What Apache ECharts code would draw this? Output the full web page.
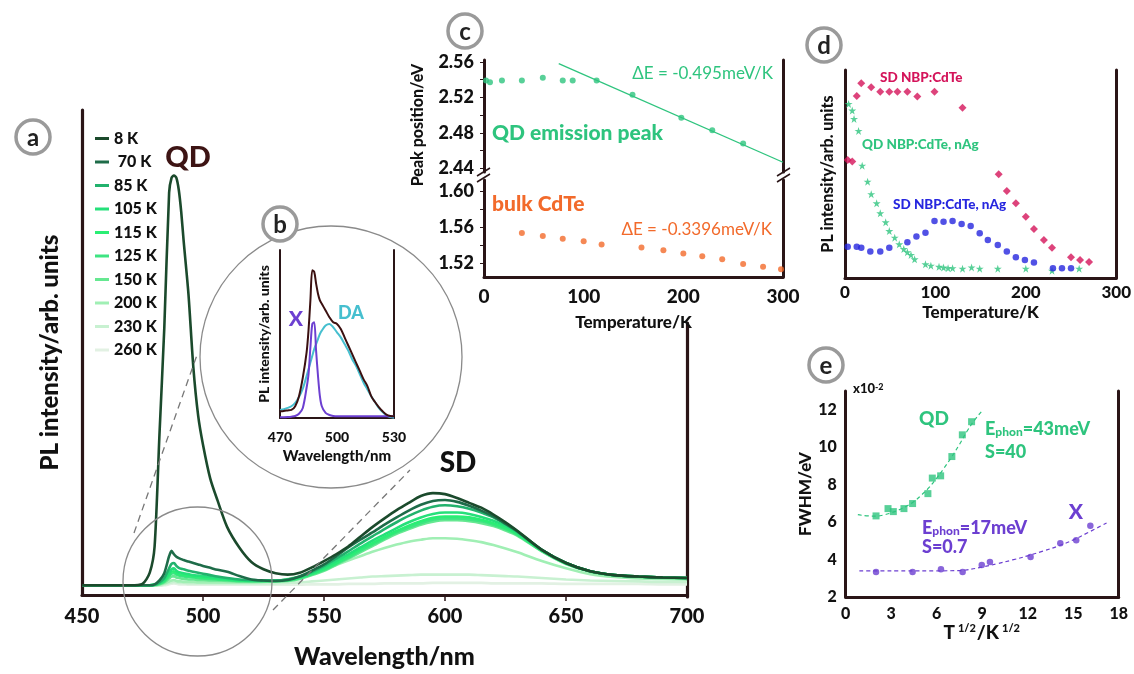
<!DOCTYPE html>
<html><head><meta charset="utf-8">
<script src="https://cdn.jsdelivr.net/npm/echarts@6/dist/echarts.min.js"></script>
<style>html,body{margin:0;padding:0;background:#fff}#c{width:1134px;height:674px}</style>
</head><body><div id="c"></div><script>
// ---------- Panel a : PL spectra ----------
const wavelengths = [450,460,470,475,478,480,482,484,486,487,488,489,490,491,492,494,496,498,500,503,506,510,515,520,525,530,535,540,545,550,555,560,565,570,575,580,585,590,595,600,605,610,615,620,625,630,640,650,660,670,680,690,700];
const tempLabels = ['8 K',' 70 K','85 K','105 K','115 K','125 K','150 K','200 K','230 K','260 K'];
const pl8K   = [2.0,2.0,2.0,2.3,4.6, 10,33,55,83,86, 86.5,86,83.5,79,73, 62,47,37,31,24, 19.5,14,9.8,6.8,5.3, 4.5,4.2,4.6,5.7,7.0, 8.4,10.0,12.0,14.0,15.8, 17.5,19.0,20.4,21.0,20.8, 20.0,19.0,18.0,16.6,15.0, 13.2,9.3,6.6,4.9,4.1, 3.8,3.6,3.5];
const pl70K  = [2.0,2.0,2.0,2.0,2.0, 2.2,3.0,4.5,8.0,9.1, 8.4,7.9,7.6,7.4,7.2, 6.9,6.6,6.3,6.0,5.6, 5.2,4.8,3.9,3.2,3.0, 2.9,3.1,3.8,5.0,6.3, 8.0,9.8,11.4,12.9,14.5, 16.0,17.4,18.6,19.4,19.6, 19.2,18.4,17.4,16.2,14.7, 13.1,9.3,6.6,4.9,4.1, 3.8,3.6,3.5];
const pl85K  = [2.0,2.0,2.0,2.0,2.0, 2.1,2.6,3.5,5.5,6.4, 6.6,6.0,5.6,5.4,5.3, 5.0,4.8,4.6,4.4,4.1, 3.8,3.5,3.2,3.1,3.0, 3.0,3.2,3.8,4.8,6.0, 7.5,9.0,10.6,12.1,13.6, 15.0,16.3,17.4,18.2,18.5, 18.3,17.8,17.0,16.0,14.6, 13.0,9.3,6.6,4.9,4.1, 3.8,3.6,3.5];
const pl105K = [2.0,2.0,2.0,2.0,2.0, 2.1,2.5,3.2,4.6,5.3, 5.5,5.0,4.7,4.6,4.5, 4.3,4.1,4.0,3.9,3.7, 3.5,3.3,3.1,3.0,3.0, 3.0,3.2,3.7,4.6,5.7, 7.0,8.4,9.8,11.2,12.5, 13.8,15.0,16.0,16.7,17.0, 17.0,16.7,16.1,15.3,14.2, 12.8,9.3,6.6,4.9,4.1, 3.8,3.6,3.5];
const pl115K = [2.0,2.0,2.0,2.0,2.0, 2.1,2.4,3.0,4.2,4.8, 4.9,4.5,4.3,4.2,4.1, 4.0,3.8,3.7,3.6,3.5, 3.3,3.2,3.0,2.9,2.9, 2.9,3.1,3.6,4.4,5.4, 6.6,8.0,9.4,10.7,12.0, 13.2,14.3,15.2,15.9,16.2, 16.2,16.0,15.5,14.8,13.8, 12.6,9.2,6.6,4.9,4.1, 3.8,3.6,3.5];
const pl125K = [2.0,2.0,2.0,2.0,2.0, 2.1,2.3,2.8,3.9,4.4, 4.5,4.2,4.0,3.9,3.8, 3.7,3.6,3.5,3.4,3.3, 3.2,3.1,2.9,2.9,2.9, 2.9,3.0,3.5,4.3,5.2, 6.4,7.7,9.1,10.4,11.7, 12.9,13.9,14.8,15.5,15.8, 15.8,15.6,15.2,14.5,13.6, 12.4,9.1,6.5,4.9,4.1, 3.8,3.6,3.5];
const pl150K = [2.0,2.0,2.0,2.0,2.0, 2.0,2.2,2.6,3.4,3.8, 3.9,3.6,3.5,3.4,3.3, 3.2,3.2,3.1,3.1,3.0, 3.0,2.9,2.8,2.8,2.8, 2.8,2.9,3.3,4.1,5.0, 6.2,7.5,8.8,10.1,11.4, 12.6,13.6,14.5,15.1,15.4, 15.4,15.2,14.8,14.2,13.3, 12.2,9.0,6.4,4.8,4.0, 3.7,3.5,3.4];
const pl200K = [2.0,2.0,2.0,2.0,2.0, 2.0,2.1,2.4,2.8,3.0, 3.1,2.9,2.8,2.8,2.7, 2.7,2.7,2.6,2.6,2.6, 2.6,2.6,2.6,2.6,2.7, 2.9,3.3,3.8,4.5,5.3, 6.2,7.1,8.0,8.9,9.7, 10.4,11.0,11.4,11.7,11.7, 11.6,11.3,10.9,10.3,9.6, 8.8,7.0,5.5,4.3,3.7, 3.4,3.3,3.2];
const pl230K = [2.0,2.0,2.0,2.0,2.0, 2.0,2.0,2.2,2.5,2.6, 2.7,2.6,2.5,2.5,2.5, 2.4,2.4,2.4,2.4,2.4, 2.4,2.4,2.4,2.4,2.4, 2.4,2.5,2.6,2.8,3.0, 3.2,3.4,3.6,3.8,3.9, 4.0,4.1,4.2,4.2,4.2, 4.2,4.2,4.1,4.0,3.9, 3.8,3.5,3.2,3.0,2.9, 2.8,2.7,2.7];
const pl260K = [1.9,1.9,1.9,1.9,1.9, 1.9,1.9,2.0,2.2,2.3, 2.4,2.3,2.2,2.2,2.2, 2.1,2.1,2.1,2.1,2.1, 2.1,2.1,2.1,2.1,2.1, 2.1,2.1,2.1,2.2,2.2, 2.2,2.3,2.3,2.3,2.4, 2.4,2.4,2.4,2.5,2.5, 2.5,2.5,2.5,2.4,2.4, 2.4,2.4,2.3,2.3,2.3, 2.3,2.2,2.2];
const plSeries = [pl8K,pl70K,pl85K,pl105K,pl115K,pl125K,pl150K,pl200K,pl230K,pl260K];
const aXTicks = [450,500,550,600,650,700];

// ---------- Panel b : decomposition ----------
const bWavelengths = [470,472,474,476,478,480,482,484,485,486,487,488,489,490,491,492,494,496,498,500,502,504,506,508,510,512,514,516,518,520,522,524,526,528,530];
const bTotal = [4.0,4.2,4.5,4.8,7.0,13,24,39, 52,70,88,87,80,74,70,68, 64,60,57,56,53,48,43,38,33,28,23,19,13,9.5,6.5,4,2,1.2,1];
const bX     = [0.5,0.5,0.6,0.8,1.2,2.5,6,18, 26,42,56,57,40,25,13,7, 3,1.8,1.2,1,1,1,1,1,1,1,1,1,1,1,1,1,1,1,1];
const bDA    = [4.8,5.2,6,7,9,12.5,17.5,25, 29,33,37,41,44,47,50,52, 55,56,54,51,48,44,40,35,31,26,21,17,13,9.5,6,3.5,1.5,0.5,0.2];
const bXTicks = [470,500,530];

// ---------- Panel c : peak position ----------
const qdTemp = [2,6,18,38,59,79,89,113,149,198,229,260];
const qdPeak = [2.539,2.537,2.539,2.539,2.542,2.539,2.539,2.539,2.523,2.497,2.483,2.468];
const qdFitTemp = [75,300];
const qdFitPeak = [2.558,2.447];
const bulkTemp = [38,59,79,100,118,158,180,200,219,239,260,280,298];
const bulkPeak = [1.5535,1.5502,1.5473,1.5444,1.5408,1.5375,1.5345,1.531,1.528,1.5247,1.5193,1.5164,1.5135];
const cUpperTicks = [2.44,2.48,2.52,2.56];
const cUpperMinor = [2.44,2.46,2.48,2.50,2.52,2.54,2.56];
const cLowerTicks = [1.52,1.56,1.60];
const cLowerMinor = [1.52,1.54,1.56,1.58,1.60];
const cXTicks = [0,100,200,300];

// ---------- Panel d : integrated intensity ----------
const sdTemp = [3,8,13,18,29,39,49,58,69,80,99,130,170,179,189,200,209,220,229,250,260,270];
const sdInt  = [56.7,56,87.5,93.6,91.7,89.6,89.6,89.6,89.6,87.2,89.6,81.9,49.9,41.8,35.9,29.5,23.6,18.3,14.6,10,8.7,7.7];
const qdAgTemp = [4,8,10,15,19,25,29,35,39,45,49,55,60,65,69,73,77,89,95,104,109,114,119,130,140,149,169,200,229,259];
const qdAgInt  = [83.7,80.5,76.5,70.7,54,46.3,40.3,35.9,31.1,26.8,22.6,19.4,16.2,13.9,12.4,11.1,9,6.6,5.9,5.4,5,4.7,4.7,4.5,5.1,4.5,4.5,4.5,3.5,4.5];
const sdAgTemp = [3,13,18,28,39,49,69,79,89,99,109,119,129,139,149,158,169,179,189,199,209,230,240,250];
const sdAgInt  = [15,15,14.6,12.7,12.7,14.6,17.2,19.9,21.8,27.4,27.1,27.4,26,25,21.5,18.3,15.9,12.7,10,8.7,7.4,4.7,4.7,4.7];
const dXTicks = [0,100,200,300];

// ---------- Panel e : FWHM ----------
const qdSqrtT = [2.0,2.79,3.14,3.84,4.41,5.42,5.71,6.26,7.0,7.69,8.30];
const qdFwhm  = [6.33,6.72,6.56,6.72,6.99,7.52,8.35,8.47,9.5,10.66,11.36];
const qdFitX  = [0.8,1.5,2.0,2.5,3,3.5,4,4.5,5,5.5,6,6.5,7,7.5,8,8.5,9.0];
const qdFitY  = [6.4,6.33,6.32,6.38,6.5,6.65,6.85,7.1,7.45,7.85,8.35,8.9,9.5,10.15,10.85,11.45,11.95];
const xSqrtT  = [2.0,4.41,6.28,7.71,8.97,9.51,12.19,14.15,15.2,16.13];
const xFwhm   = [3.34,3.34,3.48,3.34,3.71,3.87,4.14,4.87,5.03,5.8];
const xFitX   = [0.9,2,4,6,7.5,8,9,10,11,12,13,14,15,16,17.2];
const xFitY   = [3.4,3.4,3.4,3.4,3.41,3.45,3.6,3.78,3.98,4.2,4.45,4.72,5.05,5.45,5.95];
const eXTicks = [0,3,6,9,12,15,18];
const eYTicks = [2,4,6,8,10,12];

// ---------- styling ----------
const AX = '#2a1517';
const FONT = 'Lato, "DejaVu Sans", sans-serif';
const W = 900;
const GREEN = '#2ec47e', ORANGE = '#f26a2b', CRIMSON = '#d4145a', BLUE = '#2626df', PURPLE = '#6c3fd1', CYAN = '#46bfcf', MAROON = '#3b1010';
const curveColors = ['#1b4a2c','#1e6c49','#22b26d','#25e07a','#2aee74','#3ee482','#66e891','#a0efb4','#c8f1d1','#e2f1e3'];
const zip = (xs, ys) => xs.map((x, i) => [x, ys[i]]);
const bold = (size, extra) => Object.assign({fontFamily: FONT, fontWeight: W, fontSize: size, color: '#111'}, extra || {});
const line = (w) => ({show: true, onZero: false, lineStyle: {color: AX, width: w, cap: 'round'}});
const none = {show: false};
const bf = (s) => '900 ' + s + 'px Lato';

function txt(x, y, text, font, fill, align, extra) {
  return Object.assign({type: 'text', x: x, y: y, z: 50,
    style: {text: text, font: font, fill: fill, align: align || 'left', textAlign: align || 'left', verticalAlign: 'middle', textVerticalAlign: 'middle'}}, extra || {});
}
function badge(cx, cy, letter) {
  return [
    {type: 'circle', z: 60, shape: {cx: cx, cy: cy, r: 17}, style: {fill: '#fff', stroke: '#9a9a9a', lineWidth: 3.5}},
    txt(cx, cy + 1, letter, 'bold 24px Lato', '#222', 'center', {z: 61})
  ];
}
function seg(x1, y1, x2, y2, style) {
  return {type: 'line', z: 40, shape: {x1, y1, x2, y2}, style: Object.assign({stroke: '#777', lineWidth: 1.3}, style || {})};
}

const chart = echarts.init(document.getElementById('c'), null, {renderer: 'canvas'});

const grids = [
  {left: 82, right: 447, top: 110, bottom: 77},        // 0 panel a
  {left: 685.5, width: 1.5, top: 323, bottom: 77},     // 1 panel a right frame
  {left: 280, right: 740, top: 250, bottom: 256},      // 2 panel b
  {left: 484, right: 351, top: 60, bottom: 502},       // 3 panel c upper
  {left: 484, right: 351, top: 180, bottom: 397},      // 4 panel c lower
  {left: 845, right: 14, top: 70, bottom: 396},        // 5 panel d
  {left: 845.7, right: 15.3, top: 391, bottom: 77}     // 6 panel e
];

const xAxes = [
  {gridIndex: 0, type: 'value', min: 450, max: 700, interval: 50, axisLine: line(3.2),
   axisTick: {show: true, length: 6, lineStyle: {color: AX, width: 1.5}, customValues: [500,550,600,650]},
   axisLabel: bold(20, {margin: 12, customValues: aXTicks}), splitLine: none,
   name: 'Wavelength/nm', nameLocation: 'middle', nameGap: 49, nameTextStyle: bold(25)},
  {gridIndex: 1, type: 'value', show: false, min: 0, max: 1},
  {gridIndex: 2, type: 'value', min: 470, max: 530, interval: 30, axisLine: line(2), axisTick: none,
   axisLabel: bold(14, {margin: 12, customValues: bXTicks}), splitLine: none,
   name: 'Wavelength/nm', nameLocation: 'middle', nameGap: 31, nameTextStyle: bold(15)},
  {gridIndex: 3, type: 'value', show: false, min: 0, max: 300},
  {gridIndex: 4, type: 'value', min: 0, max: 300, interval: 100, axisLine: line(3), axisTick: none,
   axisLabel: bold(19, {margin: 10, customValues: cXTicks}), splitLine: none,
   name: 'Temperature/K', nameLocation: 'middle', nameGap: 37, nameTextStyle: bold(17)},
  {gridIndex: 5, type: 'value', min: 0, max: 300, interval: 100, axisLine: line(3), axisTick: none,
   axisLabel: bold(17, {margin: 6, customValues: dXTicks}), splitLine: none,
   name: 'Temperature/K', nameLocation: 'middle', nameGap: 26, nameTextStyle: bold(17)},
  {gridIndex: 6, type: 'value', min: 0, max: 18, interval: 3, axisLine: line(3), axisTick: none,
   axisLabel: bold(16, {margin: 9, customValues: eXTicks}), splitLine: none,
   name: '{m|T}{s|1/2}{m|/K}{s|1/2}', nameLocation: 'middle', nameGap: 22,
   nameTextStyle: {rich: {m: bold(19), s: bold(11, {verticalAlign: 'top', padding: [0, 1, 0, 3]})}}}
];

const yAxes = [
  {gridIndex: 0, type: 'value', min: 0, max: 100, axisLine: line(3.2), axisTick: none, axisLabel: none, splitLine: none,
   name: 'PL intensity/arb. units', nameLocation: 'middle', nameGap: 20, nameTextStyle: bold(24)},
  {gridIndex: 1, type: 'value', position: 'right', min: 0, max: 1, axisLine: line(3.2), axisTick: none, axisLabel: none, splitLine: none},
  {gridIndex: 2, type: 'value', min: 0, max: 100, axisLine: line(2), axisTick: none, axisLabel: none, splitLine: none,
   name: 'PL intensity/arb. units', nameLocation: 'middle', nameGap: 9, nameTextStyle: bold(14)},
  {gridIndex: 2, type: 'value', position: 'right', min: 0, max: 100, axisLine: line(2), axisTick: none, axisLabel: none, splitLine: none},
  {gridIndex: 3, type: 'value', min: 2.436, max: 2.562, axisLine: line(3),
   axisTick: {show: true, length: 4, customValues: cUpperMinor, lineStyle: {color: AX, width: 1}},
   axisLabel: bold(18, {margin: 10, customValues: cUpperTicks, formatter: v => v.toFixed(2)}), splitLine: none},
  {gridIndex: 3, type: 'value', position: 'right', min: 2.436, max: 2.562, axisLine: line(3), axisTick: none, axisLabel: none, splitLine: none},
  {gridIndex: 4, type: 'value', min: 1.505, max: 1.612, axisLine: line(3),
   axisTick: {show: true, length: 4, customValues: cLowerMinor, lineStyle: {color: AX, width: 1}},
   axisLabel: bold(18, {margin: 10, customValues: cLowerTicks, formatter: v => v.toFixed(2)}), splitLine: none},
  {gridIndex: 4, type: 'value', position: 'right', min: 1.505, max: 1.612, axisLine: line(3), axisTick: none, axisLabel: none, splitLine: none},
  {gridIndex: 5, type: 'value', min: 0, max: 100, axisLine: line(3), axisTick: none, axisLabel: none, splitLine: none,
   name: 'PL intensity/arb. units', nameLocation: 'middle', nameGap: 9, nameTextStyle: bold(16)},
  {gridIndex: 5, type: 'value', position: 'right', min: 0, max: 100, axisLine: line(3), axisTick: none, axisLabel: none, splitLine: none},
  {gridIndex: 6, type: 'value', min: 2, max: 13, interval: 2, axisLine: line(3), axisTick: none,
   axisLabel: bold(16, {margin: 9, customValues: eYTicks}), splitLine: none,
   name: 'FWHM/eV', nameLocation: 'middle', nameGap: 24, nameTextStyle: bold(17)},
  {gridIndex: 6, type: 'value', position: 'right', min: 2, max: 13, axisLine: line(3), axisTick: none, axisLabel: none, splitLine: none}
];

const STAR = 'path://M50,2 L61,36 L97,36 L68,57 L79,92 L50,71 L21,92 L32,57 L3,36 L39,36 Z';
const series = [];
tempLabels.forEach((name, i) => {
  series.push({type: 'line', name: name, xAxisIndex: 0, yAxisIndex: 0, data: zip(wavelengths, plSeries[i]),
    symbol: 'none', showSymbol: false, smooth: 0.25, z: 30 - i,
    lineStyle: {width: 2.6, color: curveColors[i]}, itemStyle: {color: curveColors[i]}});
});
const sub = (o) => Object.assign({symbol: 'none', showSymbol: false, silent: true}, o);
series.push(sub({type: 'line', name: 'DA', xAxisIndex: 2, yAxisIndex: 2, data: zip(bWavelengths, bDA), smooth: 0.3, lineStyle: {width: 2, color: CYAN}}));
series.push(sub({type: 'line', name: 'X', xAxisIndex: 2, yAxisIndex: 2, data: zip(bWavelengths, bX), smooth: 0.3, lineStyle: {width: 2, color: PURPLE}}));
series.push(sub({type: 'line', name: 'total', xAxisIndex: 2, yAxisIndex: 2, data: zip(bWavelengths, bTotal), smooth: 0.3, lineStyle: {width: 2, color: MAROON}}));
series.push({type: 'scatter', name: 'QD peak', xAxisIndex: 3, yAxisIndex: 4, data: zip(qdTemp, qdPeak), symbol: 'circle', symbolSize: 6, itemStyle: {color: GREEN}});
series.push(sub({type: 'line', name: 'QD fit', xAxisIndex: 3, yAxisIndex: 4, data: zip(qdFitTemp, qdFitPeak), lineStyle: {width: 1.3, color: GREEN}}));
series.push({type: 'scatter', name: 'bulk', xAxisIndex: 4, yAxisIndex: 6, data: zip(bulkTemp, bulkPeak), symbol: 'circle', symbolSize: 6, itemStyle: {color: ORANGE}, clip: false});
series.push({type: 'scatter', name: 'SD NBP', xAxisIndex: 5, yAxisIndex: 8, data: zip(sdTemp, sdInt), symbol: 'diamond', symbolSize: 8, itemStyle: {color: CRIMSON}});
series.push({type: 'scatter', name: 'QD NBP Ag', xAxisIndex: 5, yAxisIndex: 8, data: zip(qdAgTemp, qdAgInt), symbol: STAR, symbolSize: 8, itemStyle: {color: GREEN}});
series.push({type: 'scatter', name: 'SD NBP Ag', xAxisIndex: 5, yAxisIndex: 8, data: zip(sdAgTemp, sdAgInt), symbol: 'circle', symbolSize: 6.5, itemStyle: {color: BLUE}});
series.push(sub({type: 'line', name: 'QD fwhm fit', xAxisIndex: 6, yAxisIndex: 10, data: zip(qdFitX, qdFitY), smooth: true, lineStyle: {width: 1.2, color: GREEN, type: [4, 3]}}));
series.push(sub({type: 'line', name: 'X fwhm fit', xAxisIndex: 6, yAxisIndex: 10, data: zip(xFitX, xFitY), smooth: true, lineStyle: {width: 1.2, color: PURPLE, type: [4, 3]}}));
series.push({type: 'scatter', name: 'QD fwhm', xAxisIndex: 6, yAxisIndex: 10, data: zip(qdSqrtT, qdFwhm), symbol: 'rect', symbolSize: 7, itemStyle: {color: GREEN}});
series.push({type: 'scatter', name: 'X fwhm', xAxisIndex: 6, yAxisIndex: 10, data: zip(xSqrtT, xFwhm), symbol: 'circle', symbolSize: 6.5, itemStyle: {color: PURPLE}});

const graphics = [].concat(
  [{type: 'circle', z: 40, shape: {cx: 197.5, cy: 581.5, r: 74.5}, style: {fill: 'none', stroke: '#8a8a8a', lineWidth: 1.3}},
   {type: 'circle', z: 40, shape: {cx: 331, cy: 357, r: 131}, style: {fill: 'none', stroke: '#8a8a8a', lineWidth: 1.3}},
   seg(134, 533, 197, 355, {lineDash: [7, 5]}),
   seg(273, 610, 410, 470, {lineDash: [7, 5]})],
  [seg(477, 176, 490, 168, {stroke: AX, lineWidth: 1.5}), seg(477, 182, 490, 174, {stroke: AX, lineWidth: 1.5}),
   seg(777, 176, 790, 168, {stroke: AX, lineWidth: 1.5}), seg(777, 182, 790, 174, {stroke: AX, lineWidth: 1.5})],
  badge(33, 137, 'a'), badge(280, 224, 'b'), badge(465, 31, 'c'), badge(824, 45, 'd'), badge(826, 365, 'e'),
  [
    txt(188, 158, 'QD', bf(29), '#3d1414', 'center'),
    txt(458, 463, 'SD', bf(28), '#111', 'center'),
    txt(296, 319, 'X', bf(21), PURPLE, 'center'),
    txt(351, 313, 'DA', bf(18), CYAN, 'center'),
    txt(418, 125, 'Peak position/eV', bf(16), '#111', 'center', {rotation: Math.PI / 2}),
    txt(773, 74, 'ΔE = -0.495meV/K', '17px Lato', GREEN, 'right'),
    txt(492, 133, 'QD emission peak', bf(21), GREEN, 'left'),
    txt(492, 204, 'bulk CdTe', bf(21), ORANGE, 'left'),
    txt(772, 230, 'ΔE = -0.3396meV/K', '17px Lato', ORANGE, 'right'),
    txt(880, 78, 'SD NBP:CdTe', bf(13.5), CRIMSON, 'left'),
    txt(862, 145, 'QD NBP:CdTe, nAg', bf(13.5), GREEN, 'left'),
    txt(893, 205, 'SD NBP:CdTe, nAg', bf(13.5), BLUE, 'left'),
    txt(934, 419, 'QD', bf(19), GREEN, 'center'),
    txt(1076, 512, 'X', bf(21), PURPLE, 'center'),
    {type: 'text', x: 853, y: 389, z: 50, style: {text: '{a|x10}{s|-2}', verticalAlign: 'middle', textVerticalAlign: 'middle',
      rich: {a: {font: bf(13), fill: '#111'}, s: {font: bf(9), fill: '#111', verticalAlign: 'top'}}}},
    {type: 'text', x: 985, y: 429, z: 50, style: {text: '{a|E}{b|phon}{a|=43meV}', verticalAlign: 'middle', textVerticalAlign: 'middle',
      rich: {a: {font: bf(18), fill: GREEN}, b: {font: bf(12), fill: GREEN, verticalAlign: 'bottom'}}}},
    txt(985, 452, 'S=40', bf(18), GREEN, 'left'),
    {type: 'text', x: 922, y: 528, z: 50, style: {text: '{a|E}{b|phon}{a|=17meV}', verticalAlign: 'middle', textVerticalAlign: 'middle',
      rich: {a: {font: bf(18), fill: PURPLE}, b: {font: bf(12), fill: PURPLE, verticalAlign: 'bottom'}}}},
    txt(922, 547, 'S=0.7', bf(18), PURPLE, 'left')
  ]
);

chart.setOption({
  animation: false,
  backgroundColor: '#fff',
  grid: grids,
  xAxis: xAxes,
  yAxis: yAxes,
  legend: {orient: 'vertical', left: 90, top: 125.5, itemWidth: 14, itemHeight: 3, itemGap: 7.5, icon: 'rect',
    selectedMode: false, data: tempLabels,
    textStyle: {fontFamily: FONT, fontWeight: W, fontSize: 16, color: '#111', lineHeight: 16}},
  series: series,
  graphic: graphics
});
</script></body></html>
